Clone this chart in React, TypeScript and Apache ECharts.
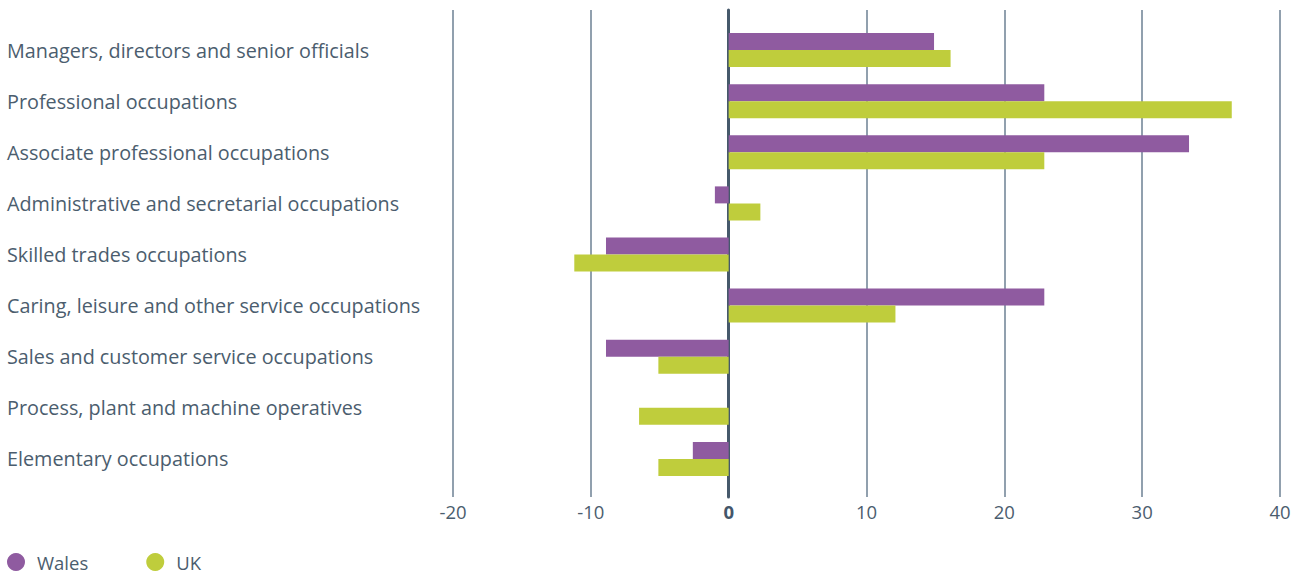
import React, { useEffect, useRef } from "react";
import * as echarts from "echarts";

const categories = [
  "Managers, directors and senior officials",
  "Professional occupations",
  "Associate professional occupations",
  "Administrative and secretarial occupations",
  "Skilled trades occupations",
  "Caring, leisure and other service occupations",
  "Sales and customer service occupations",
  "Process, plant and machine operatives",
  "Elementary occupations",
];
const wales = [14.9, 22.9, 33.4, -1.0, -8.9, 22.9, -8.9, 0, -2.6];
const uk = [16.1, 36.5, 22.9, 2.3, -11.2, 12.1, -5.1, -6.5, -5.1];

const TEXT = "#4b5d6e";
const FONT = "Open Sans";

export default function App() {
  const ref = useRef<HTMLDivElement>(null);
  useEffect(() => {
    const chart = echarts.init(ref.current!, null, { renderer: "svg" });
    chart.setOption({
      animation: false,
      textStyle: { fontFamily: FONT },
      legend: {
        left: 7,
        top: 551,
        padding: 0,
        icon: "circle",
        itemWidth: 30,
        itemHeight: 18,
        itemGap: 58,
        textStyle: {
          fontSize: 18.5,
          lineHeight: 22,
          color: TEXT,
          fontFamily: FONT,
          padding: [0, 0, 0, 1],
        },
        data: ["Wales", "UK"],
      },
      grid: [
        { left: 453, right: 21, top: 10, height: 487 },
        { left: 453, right: 21, top: 24.5, height: 460 },
      ],
      xAxis: [
        {
          gridIndex: 0,
          type: "value",
          min: -20,
          max: 40,
          interval: 10,
          axisLine: { show: false },
          axisTick: { show: false },
          splitLine: { show: true, lineStyle: { color: "#6d8193", width: 1.5 } },
          axisLabel: {
            fontSize: 18.5,
            color: TEXT,
            margin: 5,
            fontFamily: FONT,
            formatter: (v: number) => (v === 0 ? "{b|0}" : String(v)),
            rich: { b: { fontWeight: "bold", fontSize: 18.5, color: "#44566a", fontFamily: FONT } },
          },
        },
        {
          gridIndex: 1,
          type: "value",
          min: -20,
          max: 40,
          interval: 10,
          show: false,
        },
      ],
      yAxis: [
        {
          gridIndex: 0,
          type: "value",
          min: 0,
          max: 1,
          axisLine: { show: true, onZero: true, lineStyle: { color: "#46596b", width: 3 } },
          axisTick: { show: false },
          axisLabel: { show: false },
          splitLine: { show: false },
        },
        {
          gridIndex: 1,
          type: "category",
          inverse: true,
          data: categories,
          axisLine: { show: false },
          axisTick: { show: false },
          splitLine: { show: false },
          axisLabel: {
            align: "left",
            margin: 446,
            fontSize: 19.8,
            color: TEXT,
            fontFamily: FONT,
            padding: [0, 0, 5, 0],
          },
        },
      ],
      series: [
        {
          name: "Wales",
          type: "bar",
          xAxisIndex: 1,
          yAxisIndex: 1,
          data: wales,
          barWidth: 17,
          barGap: "0%",
          itemStyle: { color: "#8f5ba0" },
          z: 1,
        },
        {
          name: "UK",
          type: "bar",
          xAxisIndex: 1,
          yAxisIndex: 1,
          data: uk,
          barWidth: 17,
          barGap: "0%",
          itemStyle: { color: "#bfcd3c" },
          z: 1,
        },
      ],
    });
    return () => chart.dispose();
  }, []);
  return (
    <div
      ref={ref}
      style={{ position: "fixed", left: 0, top: 0, width: 1301, height: 575, background: "#fff" }}
    />
  );
}
